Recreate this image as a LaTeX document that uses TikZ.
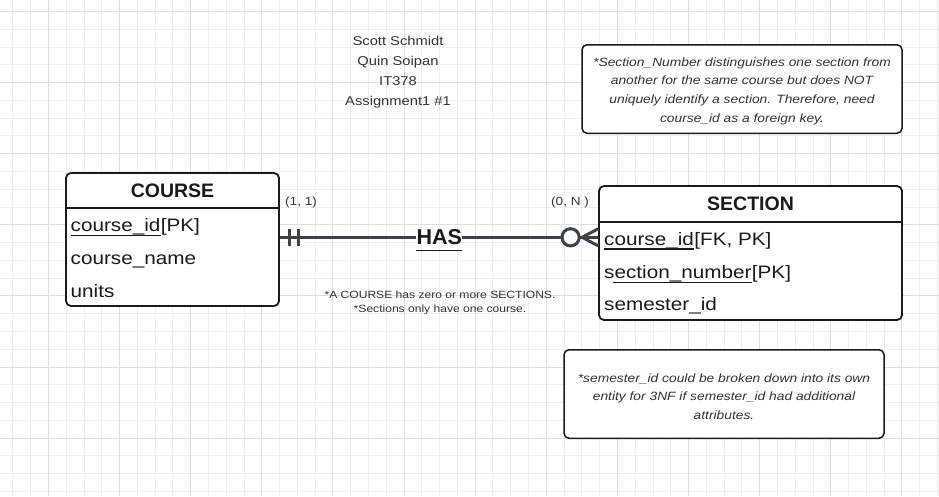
\documentclass[tikz,border=0pt]{standalone}
\usepackage{fontspec}
\usetikzlibrary{calc}
\newfontfamily\uif[FakeStretch=1.15]{Liberation Sans}
\newfontfamily\uib{Liberation Sans}
\definecolor{gridminor}{HTML}{EFEFEF}
\definecolor{gridmajor}{HTML}{DEDEDE}
\definecolor{relcol}{HTML}{3B424C}
\definecolor{inkcol}{HTML}{1B1B1B}
\definecolor{notecol}{HTML}{333333}
\tikzset{
  minorline/.style={draw=gridminor, line width=1},
  majorline/.style={draw=gridmajor, line width=1},
  entity/.style={draw=inkcol, line width=1.8, rounded corners=5, fill=white, inner sep=0},
  notebox/.style={draw=inkcol, line width=1.5, rounded corners=5, fill=white, inner sep=0},
  etitle/.style={inner sep=0, anchor=base, text=inkcol, font=\uib\bfseries\fontsize{19.5}{22}\selectfont},
  attr/.style={inner sep=0, anchor=base west, text=inkcol, font=\uif\fontsize{18}{22}\selectfont},
  ul/.style={draw=inkcol, line width=1.3},
  rel/.style={draw=relcol, line width=3},
  card/.style={inner sep=0, anchor=base west, text=notecol, font=\uif\fontsize{11.8}{14}\selectfont},
  notetext/.style={inner sep=0, align=center, text=notecol, font=\uif\itshape\fontsize{12}{18.7}\selectfont},
}
\begin{document}
\begin{tikzpicture}[x=1pt,y=-1pt]
\useasboundingbox (0,0) rectangle (939,496);
\fill[white] (0,0) rectangle (939,496);
% grid
\foreach \i in {0,...,52}{\pgfmathsetmacro\gx{floor(12.94+\i*17.78)+0.5}\draw[minorline] (\gx,0) -- ++(0,496);}
\foreach \j in {0,...,27}{\pgfmathsetmacro\gy{floor(11.5+\j*17.78)+0.5}\draw[minorline] (0,\gy) -- ++(939,0);}
\foreach \k in {-1,...,12}{\pgfmathsetmacro\gx{floor(48.5+\k*71.12)+0.5}\draw[majorline] (\gx,0) -- ++(0,496);}
\foreach \k in {0,...,6}{\pgfmathsetmacro\gy{floor(11.5+\k*71.12)+0.5}\draw[majorline] (0,\gy) -- ++(939,0);}

% title
\node[inner sep=0, align=center, text=notecol, font=\uif\fontsize{12.8}{20}\selectfont] (title) at (398,72)
  {Scott Schmidt\\Quin Soipan\\IT378\\Assignment1 \#1};

% notes
\node[notebox, minimum width=320, minimum height=88.5] (note1) at (742,89) {};
\node[notetext] (note1t) at (742,91) {*Section\_Number distinguishes one section from\\another for the same course but does NOT\\uniquely identify a section. Therefore, need\\course\_id as a foreign key.};
\node[notebox, minimum width=320, minimum height=88.5] (note2) at (724,394) {};
\node[notetext] (note2t) at (724,396.5) {*semester\_id could be broken down into its own\\entity for 3NF if semester\_id had additional\\attributes.};

% COURSE entity
\node[entity, minimum width=213, minimum height=133] (course) at (172.5,239.5) {};
\draw[draw=inkcol, line width=1.5] (course.west |- 0,208) coordinate (cdl) -- (course.east |- 0,208) coordinate (cdr);
\node[etitle] (coursetitle) at (172.5,197.5) {COURSE};
\node[attr] (c1a) at (70.5,231.7) {course\_id};
\node[attr] (c1b) at (c1a.base east) {[PK]};
\draw[ul] ($(c1a.base west)+(0,4)$) -- ($(c1a.base east)+(0,4)$);
\node[attr] (c2) at (70.5,264.8) {course\_name};
\node[attr] (c3) at (70.5,297.7) {units};

% SECTION entity
\node[entity, minimum width=303, minimum height=134] (section) at (750.5,253) {};
\draw[draw=inkcol, line width=1.5] (section.west |- 0,222) coordinate (sdl) -- (section.east |- 0,222) coordinate (sdr);
\node[etitle] (sectiontitle) at (750.5,210.7) {SECTION};
\node[attr] (s1a) at (604,245) {course\_id};
\node[attr] (s1b) at (s1a.base east) {[FK, PK]};
\draw[ul] ($(s1a.base west)+(0,4)$) -- ($(s1a.base east)+(0,4)$);
\node[attr] (s2a) at (604,278.3) {section\_number};
\node[attr] (s2b) at (s2a.base east) {[PK]};
\draw[ul] ($(s2a.base west)+(8.7,4)$) -- ($(s2a.base east)+(0,4)$);
\node[attr] (s3) at (604,310.7) {semester\_id};

% relationship
\node[inner sep=0, text=inkcol, font=\uib\bfseries\fontsize{21.5}{24}\selectfont] (has) at (439.3,237.3) {HAS};
\draw[draw=inkcol, line width=1.6] ($(has.south west)+(0,5.3)$) -- ($(has.south east)+(0,5.3)$);
\coordinate (ra) at (course.east |- has.center);
\coordinate (rb) at (section.west |- has.center);
\draw[rel] (ra) -- (has.west);
\draw[rel] (has.east) -- (rb);
% one-and-only-one marker
\draw[draw=relcol, line width=3.6] ($(ra)+(9.5,-8.5)$) -- ($(ra)+(9.5,8.5)$);
\draw[draw=relcol, line width=3.6] ($(ra)+(18.5,-8.5)$) -- ($(ra)+(18.5,8.5)$);
% zero-or-many marker
\draw[rel, fill=white] ($(rb)+(-27.5,0)$) circle (8.6);
\draw[rel] ($(rb)+(0,-8.5)$) -- ($(rb)+(-16,0)$) -- ($(rb)+(0,8.5)$);

% cardinalities
\node[card] (card1) at (285,205) {(1, 1)};
\node[card] (card2) at (551,205) {(0, N )};

% relationship note
\node[inner sep=0, align=center, text=notecol, font=\uif\fontsize{10.5}{13.5}\selectfont] (relnote) at (440,303)
  {*A COURSE has zero or more SECTIONS.\\*Sections only have one course.};
\end{tikzpicture}
\end{document}
